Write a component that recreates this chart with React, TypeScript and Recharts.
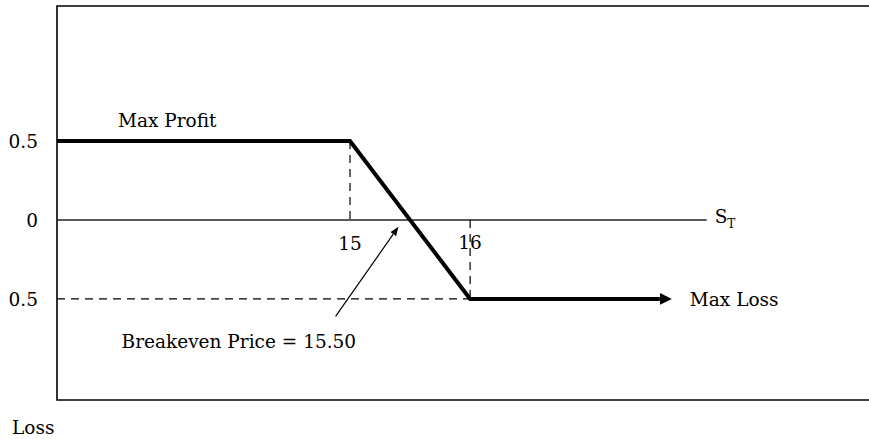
import React from 'react';
import {
  LineChart,
  Line,
  XAxis,
  YAxis,
  ReferenceLine,
  ReferenceDot,
  ReferenceArea,
} from 'recharts';

// Short position payoff at expiry (stock price S_T on the x axis)
const payoffPrice = [12.56, 15, 16, 17.58];
const payoffValue = [0.5, 0.5, -0.5, -0.5];

const lowStrike = 15;
const highStrike = 16;
const maxProfit = 0.5;
const maxLoss = -0.5;

// pointer from the label up to the breakeven point
const breakevenArrowPrice = [14.88, 15.36];
const breakevenArrowValue = [-0.61, -0.09];

const yTicks = [0.5, 0, -0.5];
const zeroLineEnd = 17.97;

// visible frame of the plot
const X_DOMAIN: [number, number] = [12.56, 19.33];
const Y_DOMAIN: [number, number] = [-1.14, 1.355];

const FONT = '"DejaVu Serif", serif';
const TEXT = { fontFamily: FONT, fontSize: 18.5, fill: '#000' };
const DASH = '8 6';

const payoffData = payoffPrice.map((price, i) => ({ price, value: payoffValue[i] }));
const arrowData = breakevenArrowPrice.map((price, i) => ({
  price,
  value: breakevenArrowValue[i],
}));

export default function App() {
  return (
    <div
      style={{
        position: 'absolute',
        left: 0,
        top: 0,
        width: 869,
        height: 439,
        overflow: 'hidden',
        background: '#fff',
      }}
    >
      <LineChart
        width={872}
        height={439}
        margin={{ top: 6, right: 2, bottom: 39, left: 0 }}
        style={{ fontFamily: FONT }}
      >
        <defs>
          <marker
            id="bigArrow"
            viewBox="0 -6 12 12"
            markerWidth={12}
            markerHeight={12}
            refX={0}
            refY={0}
            orient="auto"
            markerUnits="userSpaceOnUse"
          >
            <path d="M0,-6 L12,0 L0,6 Z" fill="#000" />
          </marker>
          <marker
            id="smallArrow"
            viewBox="0 -3.5 9 7"
            markerWidth={9}
            markerHeight={7}
            refX={0}
            refY={0}
            orient="auto"
            markerUnits="userSpaceOnUse"
          >
            <path d="M0,-3.5 L9,0 L0,3.5 Z" fill="#000" />
          </marker>
        </defs>

        <XAxis
          dataKey="price"
          type="number"
          domain={X_DOMAIN}
          allowDataOverflow
          hide
        />
        <YAxis
          type="number"
          domain={Y_DOMAIN}
          allowDataOverflow
          ticks={yTicks}
          interval={0}
          width={57}
          axisLine={false}
          tickLine={false}
          tickSize={0}
          tickMargin={19}
          tickFormatter={(v: number) => String(Math.abs(v))}
          tick={TEXT}
        />

        {/* frame */}
        <ReferenceArea
          x1={X_DOMAIN[0]}
          x2={X_DOMAIN[1]}
          y1={Y_DOMAIN[0]}
          y2={Y_DOMAIN[1]}
          fill="none"
          stroke="#000"
          strokeWidth={1.6}
          fillOpacity={0}
        />

        {/* price axis (profit = 0) */}
        <ReferenceLine
          segment={[
            { x: X_DOMAIN[0], y: 0 },
            { x: zeroLineEnd, y: 0 },
          ]}
          stroke="#222"
          strokeWidth={1.4}
          label={{
            content: (p: any) => (
              <text x={p.viewBox.x + p.viewBox.width + 8} y={p.viewBox.y + 3} {...TEXT}>
                <tspan>S</tspan>
                <tspan fontSize={12} dy={5}>T</tspan>
              </text>
            ),
          }}
        />

        {/* strike guides */}
        <ReferenceLine
          segment={[
            { x: lowStrike, y: maxProfit },
            { x: lowStrike, y: 0 },
          ]}
          stroke="#000"
          strokeWidth={1.2}
          strokeDasharray={DASH}
          label={{
            content: (p: any) => (
              <text
                x={p.viewBox.x}
                y={p.viewBox.y + p.viewBox.height + 30}
                textAnchor="middle"
                {...TEXT}
              >
                {lowStrike}
              </text>
            ),
          }}
        />
        <ReferenceLine
          segment={[
            { x: highStrike, y: 0 },
            { x: highStrike, y: maxLoss },
          ]}
          stroke="#000"
          strokeWidth={1.2}
          strokeDasharray={DASH}
          label={{
            content: (p: any) => (
              <text x={p.viewBox.x} y={p.viewBox.y + 29} textAnchor="middle" {...TEXT}>
                {highStrike}
              </text>
            ),
          }}
        />
        <ReferenceLine
          segment={[
            { x: X_DOMAIN[0], y: maxLoss },
            { x: highStrike, y: maxLoss },
          ]}
          stroke="#000"
          strokeWidth={1.2}
          strokeDasharray={DASH}
        />

        {/* payoff */}
        <Line
          data={payoffData}
          dataKey="value"
          type="linear"
          stroke="#000"
          strokeWidth={4}
          strokeLinejoin="miter"
          dot={false}
          activeDot={false}
          markerEnd="url(#bigArrow)"
          isAnimationActive={false}
        />

        {/* breakeven pointer */}
        <Line
          data={arrowData}
          dataKey="value"
          type="linear"
          stroke="#000"
          strokeWidth={1.2}
          dot={false}
          activeDot={false}
          markerEnd="url(#smallArrow)"
          isAnimationActive={false}
        />

        {/* annotations */}
        <ReferenceDot
          x={payoffPrice[0]}
          y={maxProfit}
          r={0}
          fill="none"
          stroke="none"
          label={{
            content: (p: any) => (
              <text x={p.viewBox.x + 61} y={p.viewBox.y - 14} {...TEXT}>
                Max Profit
              </text>
            ),
          }}
        />
        <ReferenceDot
          x={payoffPrice[payoffPrice.length - 1]}
          y={maxLoss}
          r={0}
          fill="none"
          stroke="none"
          label={{
            content: (p: any) => (
              <text x={p.viewBox.x + 30} y={p.viewBox.y + 7} {...TEXT}>
                Max Loss
              </text>
            ),
          }}
        />
        <ReferenceDot
          x={breakevenArrowPrice[0]}
          y={breakevenArrowValue[0]}
          r={0}
          fill="none"
          stroke="none"
          label={{
            content: (p: any) => (
              <text x={p.viewBox.x - 214} y={p.viewBox.y + 32} {...TEXT}>
                Breakeven Price = 15.50
              </text>
            ),
          }}
        />
        <ReferenceDot
          x={X_DOMAIN[0]}
          y={Y_DOMAIN[0]}
          r={0}
          fill="none"
          stroke="none"
          label={{
            content: (p: any) => (
              <text x={p.viewBox.x - 45} y={p.viewBox.y + 34} {...TEXT}>
                Loss
              </text>
            ),
          }}
        />
      </LineChart>
    </div>
  );
}
